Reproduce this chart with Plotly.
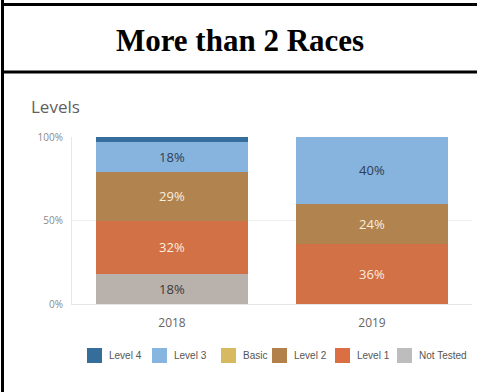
import plotly.graph_objects as go

# Share of students at each performance level, by year
years = ["2018", "2019"]
levels = ["Not Tested", "Level 1", "Level 2", "Basic", "Level 3", "Level 4"]
not_tested = [18, 0]
level_1 = [32, 36]
level_2 = [29, 24]
basic = [0, 0]
level_3 = [18, 40]
level_4 = [3, 0]

series = [not_tested, level_1, level_2, basic, level_3, level_4]
colors = {
    "Level 4": "#356e9c",
    "Level 3": "#86b4de",
    "Basic": "#d9bb60",
    "Level 2": "#b0834f",
    "Level 1": "#d27046",
    "Not Tested": "#b8b1ac",
}
swatch_colors = {
    "Level 4": "#356d9b",
    "Level 3": "#86b5df",
    "Basic": "#d7ba5f",
    "Level 2": "#b2804b",
    "Level 1": "#db6f43",
    "Not Tested": "#bdbdbd",
}
label_colors = {
    "Level 4": "#ffffff",
    "Level 3": "#2f3d57",
    "Basic": "#333333",
    "Level 2": "#fbeedd",
    "Level 1": "#fbeedd",
    "Not Tested": "#3a3a3a",
}
legend_order = ["Level 4", "Level 3", "Basic", "Level 2", "Level 1", "Not Tested"]
legend_left = [87, 152, 221, 272, 335, 397]  # swatch left edges, px

W, H = 477, 392
L, R, T, B = 72, 5, 137, 88
pw, ph = W - L - R, H - T - B


def px_x(x):
    return (x - L) / pw


def px_y(y):
    return (H - B - y) / ph


fig = go.Figure()
for name, vals in zip(levels, series):
    fig.add_trace(go.Bar(
        x=years,
        y=[v / 100 for v in vals],
        name=name,
        marker=dict(color=colors[name], line=dict(width=0)),
        text=[f"{v}%" if v >= 5 else "" for v in vals],
        textposition="inside",
        insidetextanchor="middle",
        textangle=0,
        textfont=dict(family="Open Sans, sans-serif", size=13, color=label_colors[name]),
        hoverinfo="skip",
        width=0.76,
        showlegend=False,
    ))

fig.update_layout(
    width=W, height=H,
    margin=dict(l=L, r=R, t=T, b=B),
    barmode="stack",
    plot_bgcolor="white",
    paper_bgcolor="white",
    title=dict(
        text="<b>More than 2 Races</b>",
        font=dict(family="Liberation Serif, Times New Roman, serif", size=31, color="#000000"),
        x=240 / W, xanchor="center",
        y=1 - 40 / H, yanchor="middle",
        xref="container", yref="container",
    ),
    xaxis=dict(
        showgrid=False,
        showline=True, linecolor="#e6e6e6", linewidth=1,
        ticks="",
        ticklabelstandoff=8,
        tickfont=dict(family="Open Sans, sans-serif", size=12, color="#666666"),
        fixedrange=True,
    ),
    yaxis=dict(
        range=[0, 1],
        tickvals=[0, 0.5, 1],
        ticktext=["0%", "50%", "100%"],
        showgrid=True, gridcolor="#eeeeee", gridwidth=1,
        zeroline=False,
        showline=True, linecolor="#e8e8e8", linewidth=1,
        ticks="",
        ticklabelstandoff=6,
        tickfont=dict(family="Open Sans, sans-serif", size=10, color="#8a8a8a"),
        fixedrange=True,
    ),
)

# Section heading of the chart panel
fig.add_annotation(
    text="Levels",
    xref="paper", yref="paper",
    x=px_x(29), y=px_y(107),
    xanchor="left", yanchor="middle",
    showarrow=False,
    font=dict(family="Open Sans, sans-serif", size=17, color="#5f5f5f"),
)

# Colour key below the bars
for name, left in zip(legend_order, legend_left):
    fig.add_shape(
        type="rect", xref="paper", yref="paper",
        x0=px_x(left), x1=px_x(left + 15), y0=px_y(348), y1=px_y(363),
        fillcolor=swatch_colors[name], line=dict(width=0),
    )
    fig.add_annotation(
        text=name, xref="paper", yref="paper",
        x=px_x(left + 20), y=px_y(355),
        xanchor="left", yanchor="middle", showarrow=False,
        font=dict(family="Liberation Sans, Arial, sans-serif", size=10, color="#555555"),
    )

# Table frame around the panel
frame = dict(type="line", xref="paper", yref="paper", line=dict(color="#000000", width=3))
fig.add_shape(**frame, x0=px_x(2.5), x1=px_x(2.5), y0=px_y(0), y1=px_y(H))
fig.add_shape(**frame, x0=px_x(2.5), x1=px_x(W + 2), y0=px_y(4.5), y1=px_y(4.5))
fig.add_shape(**frame, x0=px_x(2.5), x1=px_x(W + 2), y0=px_y(72), y1=px_y(72))

fig.write_html("out.html")
